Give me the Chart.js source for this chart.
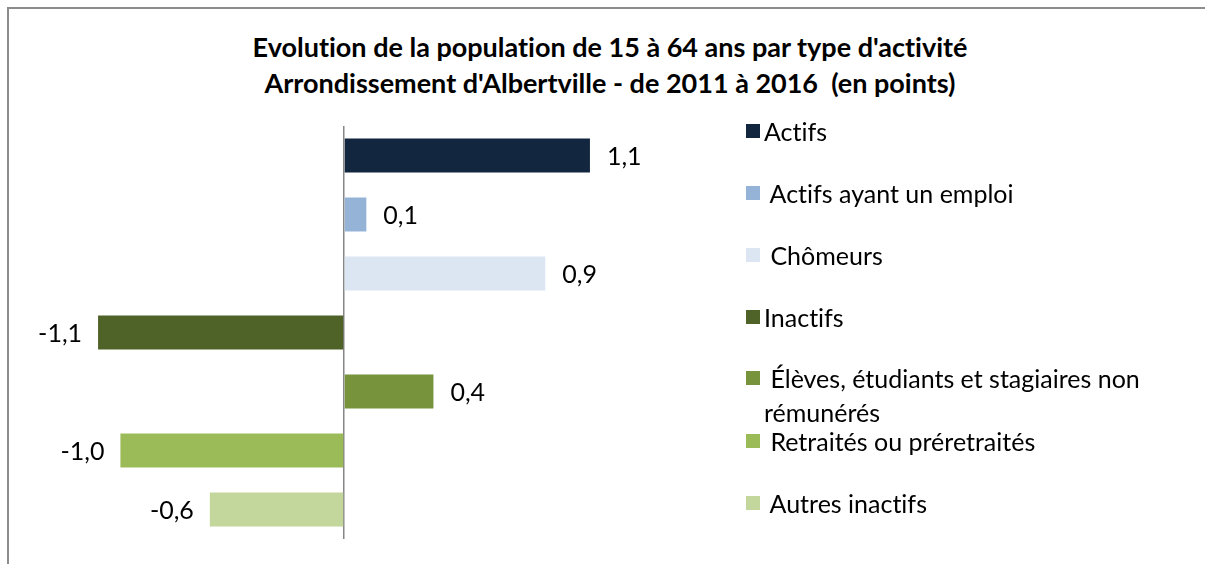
<!DOCTYPE html>
<html><head><meta charset="utf-8">
<script src="https://cdn.jsdelivr.net/npm/chart.js@4/dist/chart.umd.min.js"></script>
<style>
html,body{margin:0;padding:0;background:#fff;}
#wrap{position:relative;width:1205px;height:564px;overflow:hidden;font-family:Lato,"Open Sans",sans-serif;font-variant-ligatures:none;font-feature-settings:"liga" 0;}
#frame{position:absolute;left:7px;top:7px;width:1300px;height:700px;border-left:2px solid #8c8c8c;border-top:2px solid #8c8c8c;}
#title{position:absolute;left:0;width:1220px;top:29px;text-align:center;font-weight:bold;font-size:27px;line-height:36px;color:#000;}
canvas{position:absolute;left:0;top:0;}
.lg{position:absolute;left:746px;font-size:25px;color:#000;line-height:34px;}
.lg .sw{position:absolute;left:0;top:10px;width:14px;height:14px;}
.lg .tx{position:absolute;left:18px;top:0;white-space:nowrap;}
</style></head>
<body><div id="wrap">
<div id="frame"></div>
<div id="title">Evolution de la population de 15 à 64 ans par type d'activité<br>Arrondissement d'Albertville - de 2011 à 2016&nbsp; (en points)</div>
<canvas id="c" width="1205" height="564"></canvas>
<div id="legend"></div>
</div>
<script>
const categories = ["Actifs", " Actifs ayant un emploi", " Chômeurs", "Inactifs", " Élèves, étudiants et stagiaires non", " Retraités ou préretraités", " Autres inactifs"];
const legendLines = [["Actifs"], [" Actifs ayant un emploi"], [" Chômeurs"], ["Inactifs"], [" Élèves, étudiants et stagiaires non", "rémunérés"], [" Retraités ou préretraités"], [" Autres inactifs"]];
const values = [1.1, 0.1, 0.9, -1.1, 0.4, -1.0, -0.6];
const colors = ["#12263F", "#95B3D7", "#DCE6F2", "#4F6228", "#77933C", "#9BBB59", "#C3D69B"];
const legendTops = [114, 176, 238, 300, 361, 424, 486];

const lg = document.getElementById('legend');
legendLines.forEach((lines, i) => {
  const d = document.createElement('div');
  d.className = 'lg';
  d.style.top = legendTops[i] + 'px';
  d.innerHTML = '<div class="sw" style="background:' + colors[i] + '"></div><div class="tx">' +
    lines.map(s => s.replace(/^ /, '&nbsp;')).join('<br>') + '</div>';
  lg.appendChild(d);
});

const labelPlugin = {
  id: 'vlabels',
  afterDatasetsDraw(chart) {
    const ctx = chart.ctx;
    const meta = chart.getDatasetMeta(0);
    ctx.save();
    ctx.font = '25px Lato, "Open Sans", sans-serif';
    ctx.fillStyle = '#000';
    ctx.textBaseline = 'middle';
    meta.data.forEach((bar, i) => {
      const v = values[i];
      const txt = v.toFixed(1).replace('.', ',');
      if (v >= 0) { ctx.textAlign = 'left'; ctx.fillText(txt, bar.x + 17, bar.y + 1); }
      else { ctx.textAlign = 'right'; ctx.fillText(txt, bar.x - 16, bar.y + 1); }
    });
    ctx.restore();
  }
};

new Chart(document.getElementById('c'), {
  type: 'bar',
  data: { labels: categories, datasets: [{ data: values, backgroundColor: colors, borderWidth: 0, barPercentage: 0.58, categoryPercentage: 1 }] },
  options: {
    indexAxis: 'y', responsive: false, animation: false,
    layout: { padding: { left: 75.7, right: 592.7, top: 126, bottom: 25 } },
    plugins: { legend: { display: false }, title: { display: false }, tooltip: { enabled: false } },
    scales: {
      x: { min: -1.2, max: 1.2, ticks: { display: false, stepSize: 0.1 },
           grid: { drawTicks: false, lineWidth: c => c.tick && Math.abs(c.tick.value) < 1e-9 ? 1.5 : 0, color: '#868686' },
           border: { display: false } },
      y: { display: false }
    }
  },
  plugins: [labelPlugin]
});
</script>
</body></html>
